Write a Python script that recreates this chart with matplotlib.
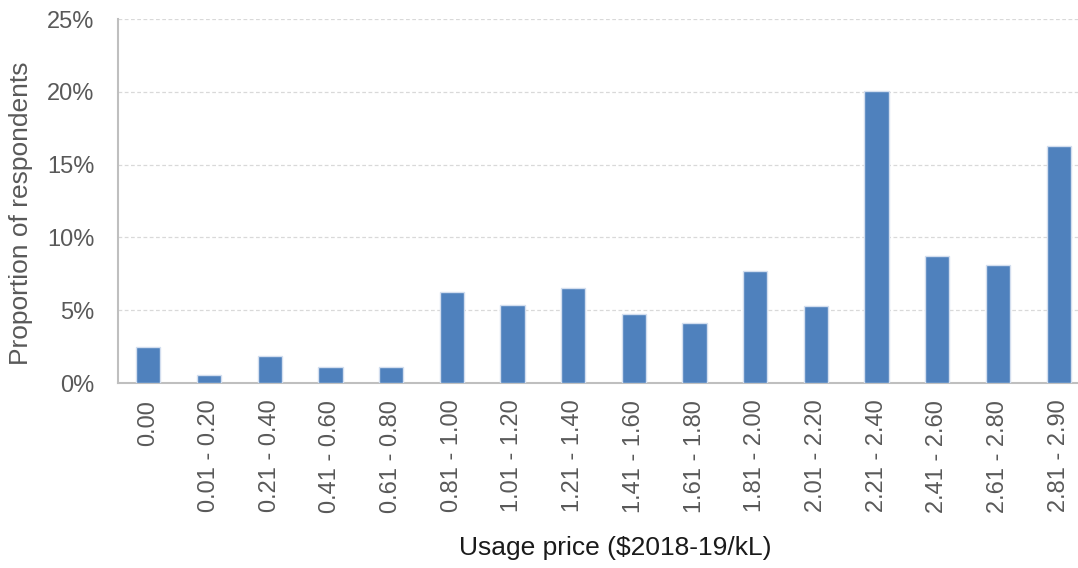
import matplotlib
matplotlib.use("Agg")
import matplotlib.pyplot as plt
import matplotlib.ticker as mtick
import numpy as np

categories = ['0.00', '0.01 - 0.20', '0.21 - 0.40', '0.41 - 0.60', '0.61 - 0.80',
              '0.81 - 1.00', '1.01 - 1.20', '1.21 - 1.40', '1.41 - 1.60', '1.61 - 1.80',
              '1.81 - 2.00', '2.01 - 2.20', '2.21 - 2.40', '2.41 - 2.60', '2.61 - 2.80',
              '2.81 - 2.90']
shares = [2.47, 0.55, 1.85, 1.1, 1.1, 6.25, 5.36, 6.52, 4.74, 4.12,
          7.67, 5.27, 20.07, 8.70, 8.08, 16.25]
yticks = [0, 5, 10, 15, 20, 25]

plt.rcParams['font.family'] = ['Liberation Sans', 'DejaVu Sans']

fig = plt.figure(figsize=(10.78, 5.68), dpi=100)
ax = fig.add_axes([118 / 1078, 1 - 383 / 568, 971 / 1078, 364 / 568])

x = np.arange(len(categories))
ax.bar(x, shares, width=0.4, color='#4f81bd', edgecolor='#d3deef', linewidth=1, zorder=3)

ax.set_xlim(-0.5, len(categories) - 0.5)
ax.set_ylim(0, 25)
ax.set_yticks(yticks)
ax.yaxis.set_major_formatter(mtick.PercentFormatter(decimals=0))
ax.set_xticks(x)
ax.set_xticklabels(categories, rotation=90, va='top', ha='center')

ax.tick_params(axis='both', length=0, labelsize=17, labelcolor='#595959')
ax.tick_params(axis='y', pad=17)
ax.tick_params(axis='x', pad=12)

ax.grid(axis='y', color='#d9d9d9', linestyle=(0, (3, 2)), linewidth=0.9, zorder=0)
for s in ['top', 'right']:
    ax.spines[s].set_visible(False)
ax.spines['left'].set_color('#bfbfbf')
ax.spines['bottom'].set_color('#bfbfbf')
ax.spines['left'].set_linewidth(1.5)
ax.spines['bottom'].set_linewidth(1.5)

fig.text(21 / 1078, 1 - 213 / 568, 'Proportion of respondents', fontsize=19,
         color='#595959', ha='center', va='center', rotation=90)
fig.text(615 / 1078, 1 - 548 / 568, 'Usage price ($2018-19/kL)', fontsize=19,
         color='#1a1a1a', ha='center', va='center')

fig.savefig('out.png', dpi=100)
